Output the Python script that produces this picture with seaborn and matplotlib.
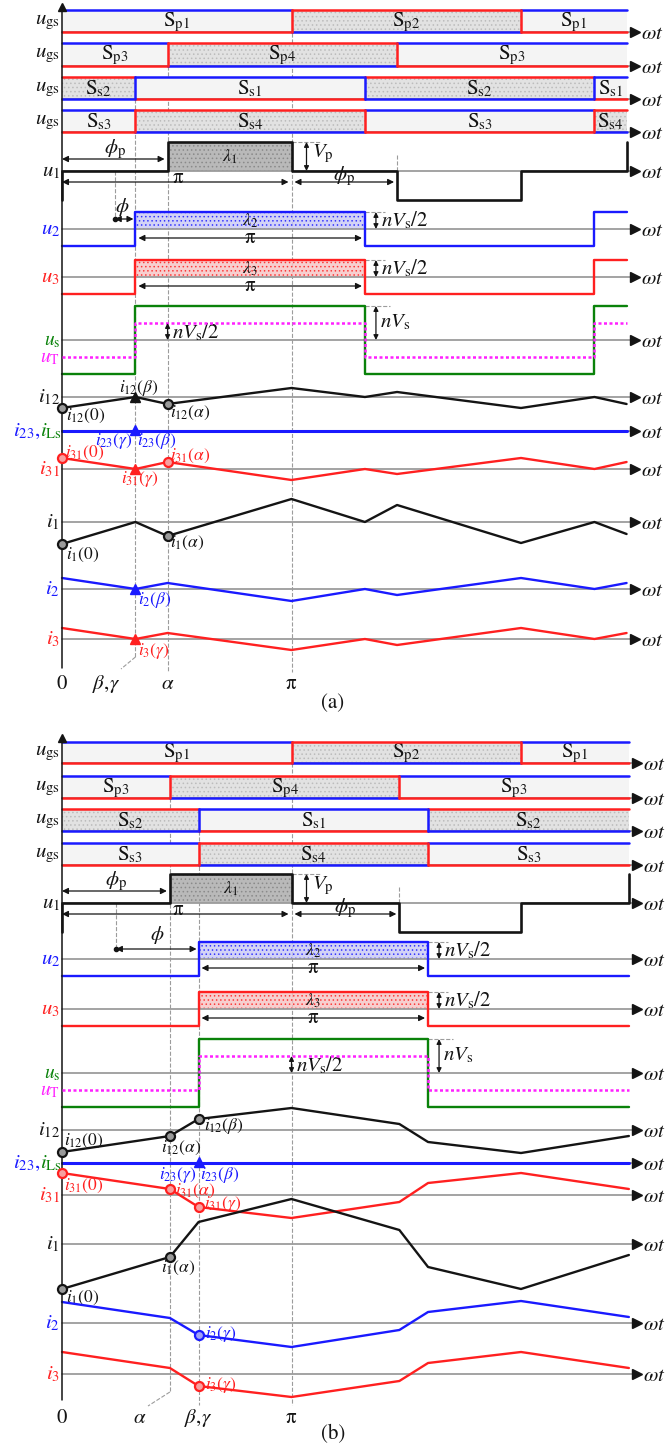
import matplotlib
matplotlib.use('Agg')
import matplotlib.pyplot as plt
import seaborn as sns

# switching angles (multiples of pi)
alpha_a, beta_a = 0.46, 0.32
alpha_b, beta_b = 0.47, 0.595
end_a = alpha_a + 2
end_b = alpha_b + 2

# voltage amplitudes (per unit of Vp)
Vp = 1.0
nVs = 1.17

# switch-state sequences per gate row
sw_names_a = [['p1', 'p2', 'p1'], ['p3', 'p4', 'p3'], ['s2', 's1', 's2', 's1'], ['s3', 's4', 's3', 's4']]
sw_edges_a = [[0, 1, 2, end_a], [0, alpha_a, alpha_a + 1, end_a],
              [0, beta_a, beta_a + 1, beta_a + 2, end_a], [0, beta_a, beta_a + 1, beta_a + 2, end_a]]
sw_names_b = [['p1', 'p2', 'p1'], ['p3', 'p4', 'p3'], ['s2', 's1', 's2'], ['s3', 's4', 's3']]
sw_edges_b = [[0, 1, 2, end_b], [0, alpha_b, alpha_b + 1, end_b],
              [0, beta_b, beta_b + 1, end_b], [0, beta_b, beta_b + 1, end_b]]
dark_states = ['p2', 'p4', 's2', 's4']

# current breakpoints (a): 0, beta, alpha, pi, beta+pi, alpha+pi, 2pi, beta+2pi, alpha+2pi
t_a = [0, beta_a, alpha_a, 1, beta_a + 1, alpha_a + 1, 2, beta_a + 2, alpha_a + 2]
i12_a = [-1.1, 0, -0.7, 0.9, 0, 0.5, -1.1, 0, -0.7]
i31_a = [1.1, 0, 0.7, -1.1, 0, -0.5, 1.1, 0, 0.7]
i1_a = [-2.2, 0, -1.4, 2.3, 0, 1.7, -2.1, 0, -1.2]
i2_a = [1.1, 0, 0.6, -1.2, 0, -0.6, 1.1, 0, 0.6]
i3_a = [1.1, 0, 0.6, -1.1, 0, -0.6, 1.1, 0, 0.6]

# current breakpoints (b): 0, alpha, beta, pi, alpha+pi, beta+pi, 2pi, alpha+2pi
t_b = [0, alpha_b, beta_b, 1, alpha_b + 1, beta_b + 1, 2, alpha_b + 2]
i12_b = [-2.2, -0.6, 1.1, 2.2, 0.6, -1.2, -2.3, -0.6]
i31_b = [2.2, 0.6, -1.2, -2.3, -0.7, 1.2, 2.2, 0.6]
i1_b = [-4.5, -1.3, 2.2, 4.5, 1.4, -2.3, -4.5, -1.1]
i2_b = [2.1, 0.5, -1.2, -2.4, -0.7, 1.1, 2.2, 0.6]
i3_b = [2.2, 0.6, -1.2, -2.3, -0.7, 1.1, 2.2, 0.6]

BLUE, RED, GREEN, MAG = '#1a1aff', '#ff2020', '#0a820a', '#ff20ff'
GREY, BLK = '#9c9c9c', '#141414'
FS, FS_SMALL = 15, 12.5

sns.set_theme(style='white')
plt.rcParams['font.family'] = ['STIXGeneral', 'DejaVu Sans']
plt.rcParams['mathtext.fontset'] = 'stix'
plt.rcParams['hatch.linewidth'] = 0.6

fig = plt.figure(figsize=(6.66, 14.5), dpi=100)
ax = fig.add_axes([0, 0, 1, 1])
X0, PX_PI = 62, 229.5
V_SCALE, I_SCALE = 29, 10


def X(px):
    return (px - X0) / PX_PI


def D(px):
    return px / PX_PI


def line(xs, ys, color, lw=1.7, ls='-', z=4):
    sns.lineplot(x=xs, y=ys, ax=ax, color=color, lw=lw, linestyle=ls,
                 sort=False, estimator=None, zorder=z, legend=False)


def step(edges, levels, base, scale):
    xs, ys = [], []
    for k, lv in enumerate(levels):
        xs += [edges[k], edges[k + 1]]
        ys += [base - lv * scale] * 2
    return xs, ys


def txt(x, y, s, color=BLK, size=FS, ha='center', va='center', **kw):
    ax.text(x, y, s, color=color, fontsize=size, ha=ha, va=va, **kw)


def time_axis(y, end):
    ax.plot([0, end + D(6)], [y, y], color=GREY, lw=1.3, zorder=2)
    ax.plot([end + D(8)], [y], marker='>', color=BLK, ms=7, zorder=5)
    txt(end + D(14), y + 2, r'$\omega t$', size=FS, ha='left')


def harrow(x0, x1, y):
    ax.annotate('', xy=(x1, y), xytext=(x0, y),
                arrowprops=dict(arrowstyle='<|-|>', color=BLK, lw=0.9, mutation_scale=9,
                                shrinkA=0, shrinkB=0), zorder=6)


def varrow(x, y0, y1):
    ax.annotate('', xy=(x, y1), xytext=(x, y0),
                arrowprops=dict(arrowstyle='<|-|>', color=BLK, lw=0.9, mutation_scale=7,
                                shrinkA=0, shrinkB=0), zorder=6)


def gate_rows(rows, names, edges, vcols, end):
    for (top, bot), nm, ed, vc in zip(rows, names, edges, vcols):
        time_axis(bot, end)
        txt(X(60), (top + bot) / 2 + 1, r'$u_{\rm gs}$', ha='right')
        for k, s in enumerate(nm):
            dark = s in dark_states
            x0, x1 = ed[k], ed[k + 1]
            if dark:
                ax.fill_between([x0, x1], top, bot, facecolor='#e2e2e2', hatch='....',
                                edgecolor='#bcbcbc', lw=0, zorder=1)
            else:
                ax.fill_between([x0, x1], top, bot, facecolor='#f4f4f4', lw=0, zorder=1)
            ax.plot([x0, x1], [top, top], color=RED if dark else BLUE, lw=1.8, zorder=4)
            ax.plot([x0, x1], [bot, bot], color=BLUE if dark else RED, lw=1.8, zorder=4)
            if 0 < x0:
                ax.plot([x0, x0], [top, bot], color=vc, lw=1.8, zorder=4)
            txt((x0 + x1) / 2, (top + bot) / 2 + 1, r'$\mathrm{S}_{\mathrm{%s}}$' % s)


def voltage_rows(P, alpha, beta, end):
    h = nVs / 2
    # u1
    time_axis(P['u1'], end)
    e1 = [0, alpha, 1, alpha + 1, 2, end]
    xs, ys = step(e1, [0, Vp, 0, -Vp, 0], P['u1'], V_SCALE)
    xs = [0] + xs + [end]
    ys = [P['u1'] + Vp * V_SCALE] + ys + [P['u1'] - Vp * V_SCALE]
    ax.fill_between([alpha, 1], P['u1'], P['u1'] - Vp * V_SCALE, facecolor='#b9b9b9',
                    hatch='....', edgecolor='#8a8a8a', lw=0, zorder=1)
    line(xs, ys, BLK, lw=1.9)
    txt(X(60), P['u1'], r'$u_1$', ha='right')
    # u2, u3, us, uT
    e2 = [0, beta, beta + 1, beta + 2, end] if beta + 2 < end else [0, beta, beta + 1, end]
    lv = [-1, 1, -1, 1][:len(e2) - 1]
    for key, col, fill, lab in [('u2', BLUE, '#c8c8f4', r'$\lambda_2$'), ('u3', RED, '#f6c3c3', r'$\lambda_3$')]:
        time_axis(P[key], end)
        ax.fill_between([beta, beta + 1], P[key], P[key] - h * V_SCALE, facecolor=fill,
                        hatch='....', edgecolor=col, lw=0, alpha=0.8, zorder=1)
        xs, ys = step(e2, [h * s for s in lv], P[key], V_SCALE)
        line(xs, ys, col)
        txt(X(60), P[key], r'$%s_%s$' % (key[0], key[1]), color=col, ha='right')
        txt(beta + 0.5, P[key] - 8, lab, size=13)
        harrow(beta + D(3), beta + 1 - D(3), P[key] + 9)
        txt(beta + 0.5, P[key] + 9, 'π', size=FS)
        ax.plot([beta + 1, beta + 1 + D(20)], [P[key] - h * V_SCALE] * 2, color=GREY, lw=0.8, ls='--')
    time_axis(P['us'], end)
    xs, ys = step(e2, [nVs * s for s in lv], P['us'], V_SCALE)
    line(xs, ys, GREEN)
    xs, ys = step(e2, [h * s for s in lv], P['us'], V_SCALE)
    line(xs, ys, MAG, lw=1.8, ls=(0, (1.2, 1.0)), z=5)
    txt(X(60), P['us'] + 1, r'$u_{\rm s}$', color=GREEN, ha='right', size=14)
    txt(X(60), P['us'] + 18, r'$u_{\rm T}$', color=MAG, ha='right', size=14)
    # u1 annotations
    harrow(0, alpha - D(3), P['u1'] - 12)
    txt(alpha / 2, P['u1'] - 22, r'$\phi_{\rm p}$')
    txt((alpha + 1) / 2, P['u1'] - 14, r'$\lambda_1$', size=13)
    varrow(1 + D(15), P['u1'] - Vp * V_SCALE, P['u1'])
    txt(1 + D(20), P['u1'] - 17, r'$V_{\rm p}$', ha='left')
    ax.plot([1, 1 + D(28)], [P['u1'] - Vp * V_SCALE] * 2, color=GREY, lw=0.8, ls='--')
    harrow(0, 1 - D(3), P['u1'] + 11)
    txt(X(178), P['u1'] + 7, 'π', size=FS)
    harrow(1 + D(3), alpha + 1 - D(3), P['u1'] + 11)
    txt(1 + alpha / 2, P['u1'] + 5, r'$\phi_{\rm p}$')
    ax.plot([alpha + 1] * 2, [P['u1'] - 16, P['u1']], color=GREY, lw=0.8, ls='--')
    # phi marker
    phi0 = alpha / 2
    ax.plot([phi0] * 2, [P['u1'], P['u2'] - 10], color=GREY, lw=0.8, ls='--', zorder=2)
    ax.plot([phi0], [P['u2'] - 10], 'o', color=BLK, ms=3, zorder=6)
    harrow(phi0, beta - D(2), P['u2'] - 10)
    # level annotations at the right of the pulses
    for key in ['u2', 'u3']:
        varrow(beta + 1 + D(11), P[key] - h * V_SCALE, P[key])
        txt(beta + 1 + D(16), P[key] - 9, r'$nV_{\rm s}/2$', ha='left')
    varrow(beta + 1 + D(11), P['us'] - nVs * V_SCALE, P['us'])
    txt(beta + 1 + D(15), P['us'] - 18, r'$nV_{\rm s}$', ha='left')
    ax.plot([beta + 1, beta + 1 + D(25)], [P['us'] - nVs * V_SCALE] * 2, color=GREY, lw=0.8, ls='--')


def current_rows(P, t, cur, end):
    for key, vals, col, lab in cur:
        time_axis(P[key], end)
        ys = [P[key] - v * I_SCALE for v in vals]
        line(t, ys, col)
        txt(X(60), P[key], lab, color=col, ha='right')
    time_axis(P['i23'], end)
    ax.plot([0, end], [P['i23']] * 2, color=BLUE, lw=2.2, zorder=4)
    txt(X(40), P['i23'], r'$i_{23}$,', color=BLUE, ha='right')
    txt(X(40), P['i23'], r'$i_{\rm Ls}$', color=GREEN, ha='left')


def mark(x, y, m, col):
    if m == 'o':
        face = '#9a9a9a' if col == BLK else ('#f7a0a0' if col == RED else '#a0a0f7')
        ax.plot([x], [y], 'o', ms=6.5, mfc=face, mec=col, mew=1.6, zorder=7)
    else:
        ax.plot([x], [y], '^', ms=6.5, color=col, zorder=7)


def yaxis(top, bot):
    ax.plot([0, 0], [top + 4, bot], color=BLK, lw=1.1, zorder=5)
    ax.plot([0], [top + 3], marker='^', color=BLK, ms=6, zorder=5)


fig_w = 666

# ---------------- panel (a) ----------------
PA = dict(u1=171, u2=229, u3=277, us=340, i12=397, i23=431, i31=469, i1=522, i2=589, i3=639)
rows_a = [(10, 32), (43, 66), (77, 99), (110, 132)]
yaxis(4, 668)
for x, y0, y1 in [(1, 33, 672), (alpha_a, 66, 672), (beta_a, 99, 657)]:
    ax.plot([x, x], [y0, y1], color=GREY, lw=0.8, ls='--', zorder=0)
ax.plot([beta_a, X(121)], [657, 669], color=GREY, lw=0.8, ls='--', zorder=0)
gate_rows(rows_a, sw_names_a, sw_edges_a, [RED, RED, BLUE, RED], end_a)
voltage_rows(PA, alpha_a, beta_a, end_a)
txt(beta_a - D(13), PA['u2'] - 22, r'$\phi$')
varrow(alpha_a, PA['us'] - nVs / 2 * V_SCALE, PA['us'])
txt(alpha_a + D(4), PA['us'] - 8, r'$nV_{\rm s}/2$', ha='left')
current_rows(PA, t_a, [('i12', i12_a, BLK, r'$i_{12}$'), ('i31', i31_a, RED, r'$i_{31}$'),
                       ('i1', i1_a, BLK, r'$i_1$'), ('i2', i2_a, BLUE, r'$i_2$'),
                       ('i3', i3_a, RED, r'$i_3$')], end_a)
for key, vals, idx, m, col in [('i12', i12_a, 0, 'o', BLK), ('i12', i12_a, 1, '^', BLK), ('i12', i12_a, 2, 'o', BLK),
                               ('i31', i31_a, 0, 'o', RED), ('i31', i31_a, 1, '^', RED), ('i31', i31_a, 2, 'o', RED),
                               ('i1', i1_a, 0, 'o', BLK), ('i1', i1_a, 2, 'o', BLK),
                               ('i2', i2_a, 1, '^', BLUE), ('i3', i3_a, 1, '^', RED)]:
    mark(t_a[idx], PA[key] - vals[idx] * I_SCALE, m, col)
mark(beta_a, PA['i23'] - 1, '^', BLUE)
for px, py, s, col, ha in [(66, 416, r'$i_{12}(0)$', BLK, 'left'), (119, 388, r'$i_{12}(\beta)$', BLK, 'left'),
                           (170, 413, r'$i_{12}(\alpha)$', BLK, 'left'), (133, 441, r'$i_{23}(\gamma)$', BLUE, 'right'),
                           (137, 441, r'$i_{23}(\beta)$', BLUE, 'left'), (65, 453, r'$i_{31}(0)$', RED, 'left'),
                           (170, 456, r'$i_{31}(\alpha)$', RED, 'left'), (121, 479, r'$i_{31}(\gamma)$', RED, 'left'),
                           (66, 555, r'$i_1(0)$', BLK, 'left'), (170, 543, r'$i_1(\alpha)$', BLK, 'left'),
                           (138, 600, r'$i_2(\beta)$', BLUE, 'left'), (138, 651, r'$i_3(\gamma)$', RED, 'left')]:
    txt(X(px), py, s, color=col, size=FS_SMALL, ha=ha)
for x, s in [(0, '0'), (X(106), r'$\beta,\!\gamma$'), (alpha_a, r'$\alpha$'), (1, 'π')]:
    txt(x, 684, s)
txt(X(333), 703, '(a)')

# ---------------- panel (b) ----------------
PB = dict(u1=903, u2=959, u3=1009, us=1073, i12=1130, i23=1163, i31=1195, i1=1244, i2=1323, i3=1374)
rows_b = [(742, 763), (776, 798), (809, 831), (843, 865)]
yaxis(735, 1400)
for x, y0, y1 in [(1, 763, 1405), (alpha_b, 798, 1392), (beta_b, 831, 1405)]:
    ax.plot([x, x], [y0, y1], color=GREY, lw=0.8, ls='--', zorder=0)
ax.plot([alpha_b, X(148)], [1392, 1406], color=GREY, lw=0.8, ls='--', zorder=0)
gate_rows(rows_b, sw_names_b, sw_edges_b, [RED, RED, BLUE, RED], end_b)
voltage_rows(PB, alpha_b, beta_b, end_b)
txt((alpha_b / 2 + beta_b) / 2, PB['u2'] - 24, r'$\phi$')
varrow(1, PB['us'] - nVs / 2 * V_SCALE, PB['us'])
txt(1 + D(4), PB['us'] - 8, r'$nV_{\rm s}/2$', ha='left')
current_rows(PB, t_b, [('i12', i12_b, BLK, r'$i_{12}$'), ('i31', i31_b, RED, r'$i_{31}$'),
                       ('i1', i1_b, BLK, r'$i_1$'), ('i2', i2_b, BLUE, r'$i_2$'),
                       ('i3', i3_b, RED, r'$i_3$')], end_b)
for key, vals, idx, col in [('i12', i12_b, 0, BLK), ('i12', i12_b, 1, BLK), ('i12', i12_b, 2, BLK),
                            ('i31', i31_b, 0, RED), ('i31', i31_b, 1, RED), ('i31', i31_b, 2, RED),
                            ('i1', i1_b, 0, BLK), ('i1', i1_b, 1, BLK),
                            ('i2', i2_b, 2, BLUE), ('i3', i3_b, 2, RED)]:
    mark(t_b[idx], PB[key] - vals[idx] * I_SCALE, 'o', col)
mark(beta_b, PB['i23'] - 1, '^', BLUE)
for px, py, s, col, ha in [(64, 1141, r'$i_{12}(0)$', BLK, 'left'), (181, 1148, r'$i_{12}(\alpha)$', BLK, 'center'),
                           (204, 1126, r'$i_{12}(\beta)$', BLK, 'left'), (197, 1175, r'$i_{23}(\gamma)$', BLUE, 'right'),
                           (200, 1175, r'$i_{23}(\beta)$', BLUE, 'left'), (64, 1186, r'$i_{31}(0)$', RED, 'left'),
                           (175, 1191, r'$i_{31}(\alpha)$', RED, 'left'), (204, 1204, r'$i_{31}(\gamma)$', RED, 'left'),
                           (66, 1298, r'$i_1(0)$', BLK, 'left'), (178, 1268, r'$i_1(\alpha)$', BLK, 'center'),
                           (205, 1334, r'$i_2(\gamma)$', BLUE, 'left'), (205, 1385, r'$i_3(\gamma)$', RED, 'left')]:
    txt(X(px), py, s, color=col, size=FS_SMALL, ha=ha)
for x, s in [(0, '0'), (X(140), r'$\alpha$'), (beta_b, r'$\beta,\!\gamma$'), (1, 'π')]:
    txt(x, 1418, s)
txt(X(333), 1434, '(b)')

ax.set_xlim(X(0), X(fig_w))
ax.set_ylim(1450, 0)
ax.axis('off')
fig.savefig('out.png', dpi=100, facecolor='white')
